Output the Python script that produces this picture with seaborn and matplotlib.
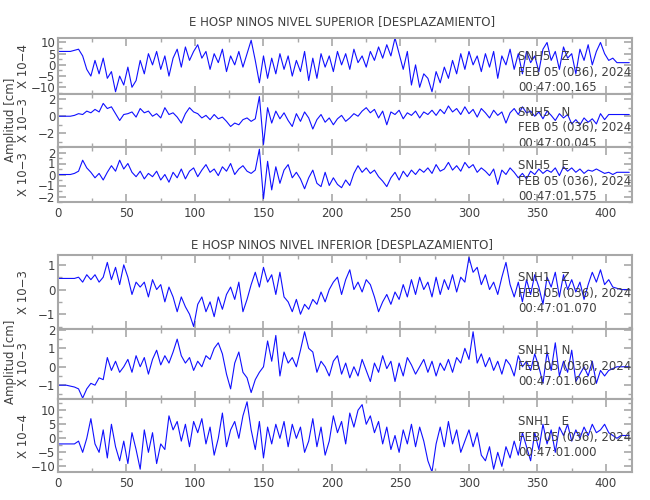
import numpy as np
import pandas as pd
import matplotlib
matplotlib.use("Agg")
import matplotlib.pyplot as plt
import seaborn as sns
from matplotlib.ticker import MultipleLocator

sns.set_theme(style="white")
plt.rcParams['font.family'] = ['DejaVu Sans']

time = list(range(0, 420, 3))

snh5_z = [6,6,6,6,6.5,
 7,4,-2,-5,2,-4,3,-6,-3,-12,-5,-9,-1,-10,-7,
 2,-4,5,0,6,-2,4,-5,3,7,-1,8,2,6,
 9,3,6,-2,5,1,7,-3,4,0,6,-1,5,11,
 2,-8,4,-6,3,-4,5,-2,4,-5,2,-3,6,-7,
 3,-6,5,-1,4,-3,6,0,5,-2,7,1,4,-1,
 6,2,8,3,9,4,12,5,-2,6,-9,0,-10,-4,
 -6,-12,-3,-8,-1,-6,2,-4,5,-2,6,0,4,-3,
 5,-1,6,-6,4,0,7,-2,5,-4,6,1,4,-3,
 7,10,2,6,-2,8,3,5,-4,7,2,9,0,6,
 10,5,2,3,1,1,1,1]
snh5_n = [0,0,0,0,0.1,
 0.3,0.2,0.6,0.4,0.8,0.5,1.5,0.9,1.1,0.3,-0.5,0.2,0.3,0.5,-0.1,
 0.9,0.4,0.6,0.0,0.3,-0.2,1.0,0.2,0.4,-0.1,-0.8,0.3,1.0,0.5,
 0.3,-0.2,0.1,-0.4,0.2,-0.3,-0.1,-0.6,-1.2,-0.8,-1.0,-0.4,-0.2,-0.6,
 -0.3,2.3,-3.3,1.0,-0.8,0.6,-0.3,0.4,-0.5,-1.2,0.3,-0.6,0.5,-0.2,
 -1.5,-0.4,0.2,-0.7,-0.2,-1.0,-0.3,0.1,-0.6,-0.2,0.3,0.0,0.6,1.0,
 0.4,0.8,-0.2,0.6,-1.0,0.5,0.2,0.7,-0.3,0.4,0.1,0.6,-0.2,0.5,
 0.2,0.7,0.1,0.8,0.3,1.2,0.5,0.9,0.2,1.1,0.3,0.8,-0.1,0.9,
 0.4,-0.2,0.7,0.1,0.5,-0.8,0.4,0.9,0.2,1.1,0.4,0.6,0.0,0.5,
 -0.3,0.6,0.1,-0.5,0.3,-0.2,0.2,-0.9,-0.4,-1.0,-0.2,-0.7,-0.3,-0.9,
 0.3,-0.4,0.2,0.2,0.2,0.2,0.2,0.2]
snh5_e = [0,0,0,0,0.1,
 0.3,1.3,0.6,0.2,-0.3,0.1,-0.5,0.2,0.8,0.3,1.3,0.5,1.0,0.2,-0.2,
 0.3,-0.4,0.1,-0.2,0.3,-0.5,0.0,-0.7,0.2,-0.3,0.5,-0.4,0.3,0.6,
 -0.2,0.4,0.9,0.2,0.5,-0.1,0.7,0.3,1.0,0.0,0.5,0.8,0.3,0.1,
 0.4,2.3,-2.2,1.2,-1.4,0.7,-0.8,0.4,0.9,-0.3,0.2,-0.4,-1.3,-0.3,
 0.4,-0.8,-1.1,0.2,-1.0,-0.3,-0.9,-1.2,-0.5,-1.0,0.1,0.8,0.2,0.6,
 0.1,0.4,-0.2,-0.6,-1.1,-0.3,0.2,-0.5,0.3,-0.2,0.4,0.0,0.5,0.2,
 0.6,0.1,0.9,0.3,0.5,1.1,0.4,0.8,0.3,1.1,0.6,0.9,0.2,0.6,
 0.3,-0.1,0.5,-0.9,0.4,0.0,0.6,0.2,-0.3,0.1,-0.4,0.3,0.0,0.5,
 0.1,0.4,0.2,0.6,-0.1,0.7,0.3,0.6,0.2,0.5,0.1,0.4,0.3,0.5,
 0.3,0.1,0.2,0.0,0.2,0.2,0.2,0.2]
snh1_z = [0.45,0.45,0.45,0.45,0.45,
 0.5,0.3,0.6,0.4,0.6,0.3,0.5,1.1,0.4,0.9,0.2,1.0,0.5,-0.2,0.3,
 0.1,0.3,-0.3,0.4,0.0,0.2,-0.5,0.1,-0.3,-0.9,-0.3,-0.7,-1.0,-1.5,
 -0.6,-0.3,-0.9,-0.5,-1.1,-0.3,-0.8,-0.2,0.1,-0.4,0.3,-0.9,-0.4,0.2,
 0.7,0.1,0.9,0.3,0.6,-0.2,0.7,-0.3,-0.5,-0.9,-0.4,-1.0,-0.6,-0.8,
 -0.4,-0.6,-0.1,-0.5,0.0,0.3,0.5,-0.2,0.4,0.8,0.0,0.3,-0.1,0.4,
 0.2,-0.3,-0.9,-0.5,-0.2,-0.6,-0.1,-0.4,0.2,-0.3,0.4,-0.2,0.5,0.0,
 0.3,-0.3,0.5,-0.2,0.4,0.0,0.6,-0.1,0.5,0.3,1.3,0.7,0.9,0.2,
 0.6,0.0,0.3,-0.2,0.5,1.1,0.2,-0.3,0.3,-0.5,0.4,-0.2,0.6,0.1,
 -0.6,0.5,0.1,0.7,-0.3,0.6,0.0,0.4,-0.1,0.3,-0.4,0.2,0.7,0.3,
 0.8,0.2,0.4,0.1,0.05,0.0,0.0,0.0]
snh1_n = [-1,-1,-1,-1.05,-1.1,
 -1.2,-1.7,-1.2,-0.9,-1.0,-0.6,-0.7,0.5,-0.2,0.3,-0.3,0.0,0.4,-0.3,0.6,
 0.0,0.5,-0.4,0.4,0.9,0.1,0.6,0.2,0.8,1.5,0.6,0.2,0.5,-0.2,
 0.3,0.0,0.6,0.4,1.0,1.3,0.7,-0.4,-1.2,0.2,0.8,-0.3,-0.6,-1.4,
 -0.7,-0.3,0.0,1.4,0.3,1.7,-0.5,0.8,0.2,0.5,0.0,0.9,1.9,1.0,
 0.8,-0.3,0.3,0.0,-0.5,0.3,0.6,-0.4,0.2,-0.6,0.0,-0.5,0.4,-0.2,
 -0.8,0.2,-0.3,0.6,-0.1,0.3,-0.8,0.2,-0.5,0.5,0.1,-0.4,0.0,0.4,
 -0.3,0.3,-0.5,0.2,-0.2,0.4,-0.3,0.5,0.2,1.0,0.4,1.9,0.2,0.7,
 0.0,0.5,-0.2,0.3,-0.4,0.4,0.1,-0.5,0.6,0.0,0.3,-0.2,0.7,0.0,
 -0.9,0.8,-0.2,1.3,-0.5,0.3,-0.3,0.9,-0.8,-0.4,0.0,-0.5,0.3,-0.9,
 -0.2,-0.5,-0.2,-0.1,0.0,0.0,0.0,0.0]
snh1_e = [-2,-2,-2,-2,-2,
 -1,-5,0,7,-2,-5,3,-7,5,-3,-8,-1,-9,2,-4,
 -11,3,-5,2,-9,-2,-4,8,3,6,-1,5,-3,6,
 2,7,-2,4,-6,0,9,-3,3,6,0,8,13,3,
 -4,6,-7,4,-2,5,0,6,-3,5,0,4,-5,-1,
 7,-3,4,-6,-1,8,2,6,-2,9,4,10,12,5,
 8,2,6,-2,4,-4,1,-5,3,-2,5,-3,4,-1,
 -8,-12,-2,4,-3,6,-2,3,-5,-1,3,-3,2,-6,
 -8,-3,-11,-5,-10,-3,-7,-1,-6,2,-3,-8,2,-4,
 5,-2,3,-5,4,1,5,-1,3,0,4,1,5,2,
 3,5,2,1,0,1,1,1]

titles = ["E HOSP NINOS NIVEL SUPERIOR [DESPLAZAMIENTO]",
          "E HOSP NINOS NIVEL INFERIOR [DESPLAZAMIENTO]"]
stations = ["SNH5   Z", "SNH5   N", "SNH5   E", "SNH1   Z", "SNH1   N", "SNH1   E"]
times = ["00:47:00.165", "00:47:00.045", "00:47:01.575",
         "00:47:01.070", "00:47:01.060", "00:47:01.000"]
date = "FEB 05 (036), 2024"
scales = ["X 10\u22124", "X 10\u22123", "X 10\u22123", "X 10\u22123", "X 10\u22123", "X 10\u22124"]
series = [snh5_z, snh5_n, snh5_e, snh1_z, snh1_n, snh1_e]
ylims = [(-13, 12), (-3.6, 2.6), (-2.5, 2.5), (-1.6, 1.4), (-1.75, 2.05), (-12, 14)]
yticks = [[-10, -5, 0, 5, 10], [-2, 0, 2], [-2, -1, 0, 1, 2], [-1, 0, 1], [-1, 0, 1, 2], [-10, -5, 0, 5, 10]]
ytl = [["\u221210", "\u22125", "0", "5", "10"], ["\u22122", "0", "2"], ["\u22122", "\u22121", "0", "1", "2"],
       ["\u22121", "0", "1"], ["\u22121", "0", "1", "2"], ["\u221210", "\u22125", "0", "5", "10"]]
yminor = [2.5, 1, 0.5, 0.5, 0.5, 2.5]

px = [(38, 94), (94, 147), (147, 202), (255, 329), (329, 399), (399, 472)]
fig = plt.figure(figsize=(6.5, 5), dpi=100)
W, H = 650, 500
gray = "#a8a8a8"
tc = "#404040"
for i, (top, bot) in enumerate(px):
    ax = fig.add_axes([58 / W, 1 - bot / H, (632 - 58) / W, (bot - top) / H])
    df = pd.DataFrame({"t": time, "v": series[i]})
    sns.lineplot(data=df, x="t", y="v", ax=ax, color="#1010ff", linewidth=0.8)
    ax.set_xlim(0, 419)
    ax.set_ylim(*ylims[i])
    ax.set_xlabel("")
    ax.set_ylabel(scales[i], fontsize=8.5, color=tc)
    ax.yaxis.set_label_coords((30 - 58) / 574, 0.5)
    ax.set_yticks(yticks[i])
    ax.set_yticklabels(ytl[i])
    ax.yaxis.set_minor_locator(MultipleLocator(yminor[i]))
    ax.set_xticks(range(0, 401, 50))
    ax.xaxis.set_minor_locator(MultipleLocator(25))
    ax.tick_params(which="both", direction="in", colors=gray, labelcolor=tc,
                   labelsize=8.5, top=True, right=True, bottom=True, left=True)
    ax.tick_params(which="major", length=6, width=1.2)
    ax.tick_params(which="minor", length=3, width=1)
    ax.tick_params(axis="y", pad=2)
    if i not in (2, 5):
        ax.set_xticklabels([])
    for s in ax.spines.values():
        s.set_color(gray)
        s.set_linewidth(1.5)
    ax.text(0.802, 0.78, stations[i] + "\n" + date + "\n" + times[i],
            transform=ax.transAxes, fontsize=8.5, color=tc, va="top", ha="left",
            linespacing=1.25)
fig.text(342 / W, 1 - 22 / H, titles[0], ha="center", va="center", fontsize=8.5, color=tc)
fig.text(342 / W, 1 - 245 / H, titles[1], ha="center", va="center", fontsize=8.5, color=tc)
fig.text(11 / W, 1 - 120 / H, "Amplitud [cm]", rotation=90, ha="center", va="center", fontsize=8.5, color=tc)
fig.text(11 / W, 1 - 362 / H, "Amplitud [cm]", rotation=90, ha="center", va="center", fontsize=8.5, color=tc)
fig.savefig("out.png", dpi=100, facecolor="white")
